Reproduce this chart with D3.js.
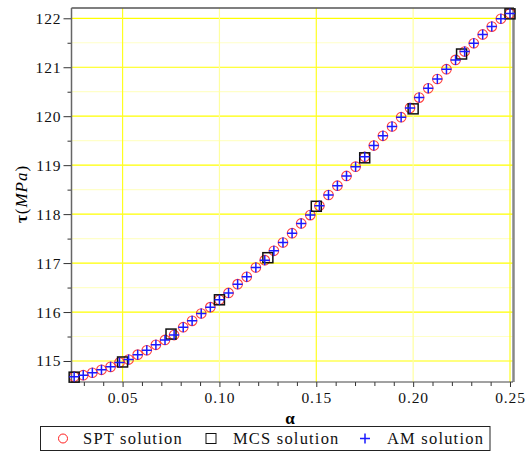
<!DOCTYPE html>
<html>
<head>
<meta charset="utf-8">
<script src="https://cdn.jsdelivr.net/npm/d3@7"></script>
<style>
  body { margin: 0; background: #fff; }
  svg { display: block; }
</style>
</head>
<body>
<svg id="chart"></svg>
<script>
// alpha values of the SPT / AM runs
const alphaFine = [0.025, 0.0297, 0.0344, 0.0391, 0.0438, 0.0484, 0.0531, 0.0578, 0.0625, 0.0672,
  0.0719, 0.0766, 0.0813, 0.0859, 0.0906, 0.0953, 0.1000, 0.1047, 0.1094, 0.1141,
  0.1188, 0.1234, 0.1281, 0.1328, 0.1375, 0.1422, 0.1469, 0.1516, 0.1563, 0.1609,
  0.1656, 0.1703, 0.1750, 0.1797, 0.1844, 0.1891, 0.1938, 0.1984, 0.2031, 0.2078,
  0.2125, 0.2172, 0.2219, 0.2266, 0.2313, 0.2359, 0.2406, 0.2453, 0.25];
const sptValues = [114.68, 114.71, 114.76, 114.82, 114.88, 114.97, 115.03, 115.13, 115.22, 115.33,
  115.43, 115.53, 115.69, 115.82, 115.97, 116.10, 116.25, 116.39, 116.57, 116.72,
  116.91, 117.06, 117.25, 117.42, 117.61, 117.81, 117.98, 118.17, 118.39, 118.58,
  118.78, 118.97, 119.17, 119.40, 119.60, 119.79, 119.98, 120.17, 120.38, 120.57,
  120.76, 120.96, 121.15, 121.32, 121.49, 121.67, 121.83, 121.99, 122.10];
const amValues = sptValues.slice();
// Monte Carlo runs, coarser grid
const alphaMcs = [0.025, 0.05, 0.075, 0.10, 0.125, 0.15, 0.175, 0.20, 0.225, 0.25];
const mcsValues = [114.67, 114.98, 115.55, 116.25, 117.11, 118.16, 119.15, 120.15, 121.27, 122.09];

const xTicks = [0.05, 0.10, 0.15, 0.20, 0.25];
const yTicks = [115, 116, 117, 118, 119, 120, 121, 122];

const width = 526, height = 452;
const pLeft = 71.5, pRight = 513, pTop = 8, pBottom = 382;
const serif = "'Liberation Serif', 'Times New Roman', serif";

const svg = d3.select("#chart").attr("width", width).attr("height", height);

const x = d3.scaleLinear().domain([0.02363, 0.25155]).range([pLeft, pRight]);
const y = d3.scaleLinear().domain([114.571, 122.21]).range([pBottom, pTop]);

// grid: half-steps pale, whole steps bright yellow
const g = svg.append("g");
d3.range(115, 122.01, 0.5).forEach(v => {
  g.append("line")
    .attr("x1", pLeft).attr("x2", pRight)
    .attr("y1", y(v)).attr("y2", y(v))
    .attr("stroke", Number.isInteger(v) ? "#ffff00" : "#ffffc8")
    .attr("stroke-width", 1.2);
});
xTicks.forEach((v, i) => {
  g.append("line")
    .attr("x1", x(v)).attr("x2", x(v))
    .attr("y1", pTop).attr("y2", pBottom)
    .attr("stroke", i % 2 === 0 ? "#ffff20" : "#ffffa0")
    .attr("stroke-width", 1.2);
});

// axes
const yAxis = d3.axisLeft(y).tickValues(yTicks).tickFormat(d3.format("d")).tickSize(8).tickPadding(2);
const yMinor = d3.axisLeft(y).tickValues(d3.range(114.5, 122.1, 0.5).filter(v => !Number.isInteger(v) && v > 114.6)).tickFormat("").tickSize(4);
const xAxis = d3.axisBottom(x).tickValues(xTicks).tickFormat(d3.format(".2f")).tickSize(5).tickPadding(5);
const xMinor = d3.axisBottom(x).tickValues(d3.range(3, 26).map(k => k / 100).filter(v => Math.round(v * 100) % 5 !== 0)).tickFormat("").tickSize(4);

function styleAxis(sel) {
  sel.select(".domain").remove();
  sel.selectAll("line").attr("stroke", "#333");
  sel.selectAll("text").attr("font-family", serif).attr("font-size", 15.5)
    .attr("letter-spacing", 0.9).attr("fill", "#111");
}
svg.append("g").attr("transform", `translate(${pLeft},0)`).call(yAxis).call(styleAxis);
svg.append("g").attr("transform", `translate(${pLeft},0)`).call(yMinor).call(styleAxis);
svg.append("g").attr("transform", `translate(0,${pBottom})`).call(xAxis).call(styleAxis);
svg.append("g").attr("transform", `translate(0,${pBottom})`).call(xMinor).call(styleAxis);

// frame
svg.append("line").attr("x1", pLeft).attr("x2", pRight + 1).attr("y1", pTop).attr("y2", pTop)
  .attr("stroke", "#555").attr("stroke-width", 1.5);
svg.append("line").attr("x1", pRight + 0.5).attr("x2", pRight + 0.5).attr("y1", pTop).attr("y2", pBottom)
  .attr("stroke", "#888").attr("stroke-width", 2.5);
svg.append("line").attr("x1", pLeft).attr("x2", pLeft).attr("y1", pTop).attr("y2", pBottom + 0.5)
  .attr("stroke", "#666").attr("stroke-width", 1.5);
svg.append("line").attr("x1", pLeft).attr("x2", pRight).attr("y1", pBottom).attr("y2", pBottom)
  .attr("stroke", "#444").attr("stroke-width", 1);

// markers
const fine = alphaFine.map((a, i) => ({ a, spt: sptValues[i], am: amValues[i] }));
const mcs = alphaMcs.map((a, i) => ({ a, v: mcsValues[i] }));

svg.append("g").selectAll("circle").data(fine).join("circle")
  .attr("cx", d => x(d.a)).attr("cy", d => y(d.spt)).attr("r", 4.8)
  .attr("fill", "none").attr("stroke", "#ff2020").attr("stroke-width", 1.1).attr("opacity", 0.85);

svg.append("g").selectAll("rect").data(mcs).join("rect")
  .attr("x", d => x(d.a) - 5).attr("y", d => y(d.v) - 5)
  .attr("width", 10).attr("height", 10)
  .attr("fill", "none").attr("stroke", "#111").attr("stroke-width", 1.5);

svg.append("g").selectAll("path").data(fine).join("path")
  .attr("d", d => `M${x(d.a) - 5},${y(d.am)}h10M${x(d.a)},${y(d.am) - 5}v10`)
  .attr("stroke", "#1a1aff").attr("stroke-width", 1.5).attr("fill", "none");

// axis titles
svg.append("text").attr("x", 290).attr("y", 424).attr("text-anchor", "middle")
  .attr("font-family", serif).attr("font-size", 17).attr("font-weight", "bold").text("α");

const yt = svg.append("text").attr("transform", "translate(27,194) rotate(-90)")
  .attr("text-anchor", "middle").attr("font-family", serif).attr("font-size", 17)
  .attr("letter-spacing", 1);
yt.append("tspan").attr("font-weight", "bold").text("τ");
yt.append("tspan").text("(");
yt.append("tspan").attr("font-style", "italic").text("MPa");
yt.append("tspan").text(")");

// legend
const leg = svg.append("g");
leg.append("rect").attr("x", 40.5).attr("y", 426.5).attr("width", 449.5).attr("height", 24)
  .attr("fill", "#fff").attr("stroke", "#222").attr("stroke-width", 1);
const legY = 438.5;
leg.append("circle").attr("cx", 63).attr("cy", legY).attr("r", 4.5)
  .attr("fill", "none").attr("stroke", "#ff2020").attr("stroke-width", 1);
leg.append("rect").attr("x", 206).attr("y", legY - 5).attr("width", 10).attr("height", 10)
  .attr("fill", "none").attr("stroke", "#111").attr("stroke-width", 1);
leg.append("path").attr("d", `M360,${legY}h10M365,${legY - 5}v10`)
  .attr("stroke", "#1a1aff").attr("stroke-width", 1.5);
[["SPT solution", 83], ["MCS solution", 233], ["AM solution", 387]].forEach(([t, lx]) => {
  leg.append("text").attr("x", lx).attr("y", legY + 5.5)
    .attr("font-family", serif).attr("font-size", 16.5).attr("letter-spacing", 1.2)
    .attr("fill", "#111").text(t);
});
</script>
</body>
</html>
